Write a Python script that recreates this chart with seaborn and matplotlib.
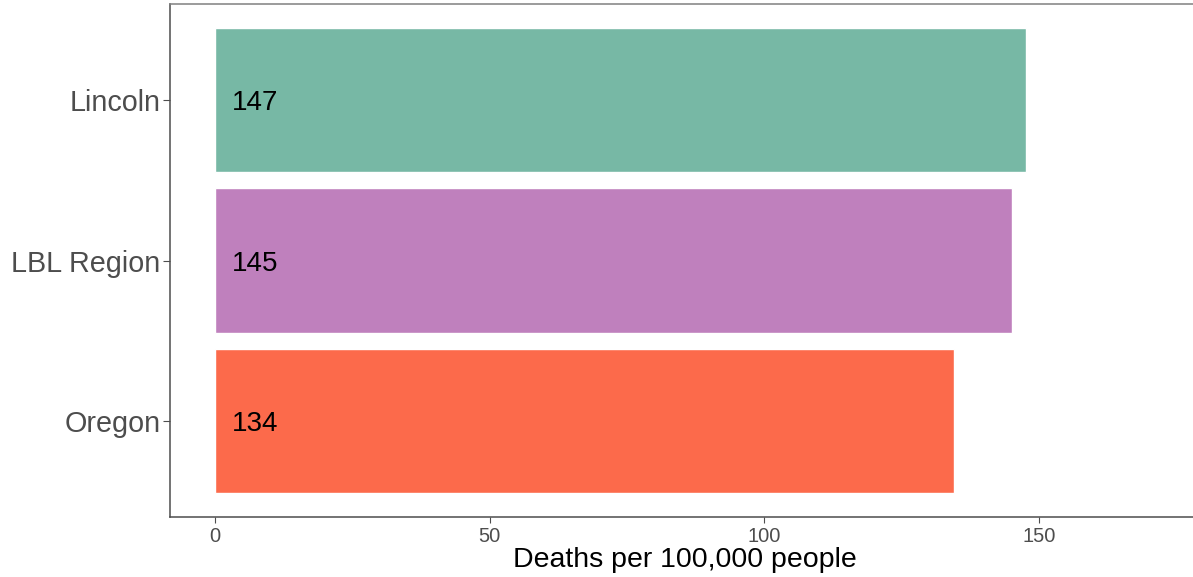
import pandas as pd
import seaborn as sns
import matplotlib
matplotlib.use('Agg')
import matplotlib.pyplot as plt

# data
places = ['Lincoln', 'LBL Region', 'Oregon']
deaths = [147.6, 145.1, 134.5]
labels = ['147', '145', '134']
colors = ['#77B8A5', '#BF80BD', '#FC6A4B']

data = pd.DataFrame({'place': places, 'deaths': deaths})

sns.set_style('white')
plt.rcParams['font.family'] = ['Liberation Sans', 'DejaVu Sans']

fig = plt.figure(figsize=(11.93, 5.77), dpi=100)
ax = fig.add_axes([170 / 1193, 60 / 577, 1030 / 1193, 513 / 577])

sns.barplot(data=data, x='deaths', y='place', hue='place', palette=colors,
            order=places, width=0.9, saturation=1, legend=False, ax=ax)

for i, lab in enumerate(labels):
    ax.text(3.1, i + 0.02, lab, va='center', ha='left', fontsize=20, color='black')

ax.set_xlim(-8.2, 179.3)
ax.set_ylim(2.6, -0.6)
ax.set_xticks([0, 50, 100, 150])
ax.set_xlabel('Deaths per 100,000 people', fontsize=20.5, color='black', labelpad=1)
ax.set_ylabel('')

ax.tick_params(axis='x', labelsize=14.5, colors='#4D4D4D', length=4, width=0.8, pad=3,
               bottom=True)
ax.tick_params(axis='y', labelsize=20.7, colors='#4D4D4D', length=5, width=0.8, pad=2,
               left=True)

for side in ['left', 'bottom']:
    ax.spines[side].set_color('#4D4D4D')
    ax.spines[side].set_linewidth(1.1)
ax.spines['top'].set_color('#808080')
ax.spines['top'].set_linewidth(1.1)
ax.spines['right'].set_visible(False)

fig.savefig('out.png', dpi=100)
